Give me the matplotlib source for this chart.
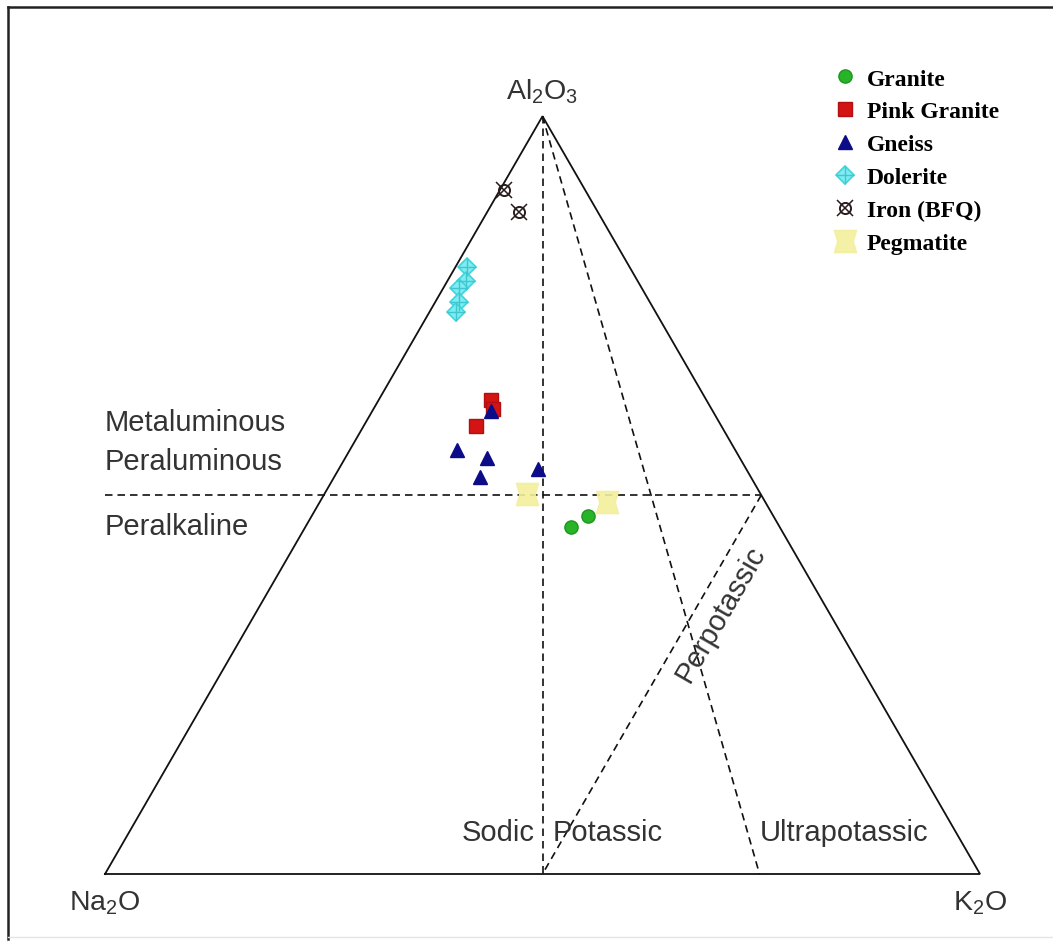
import numpy as np
import matplotlib.pyplot as plt
from matplotlib.path import Path
from matplotlib.lines import Line2D
from matplotlib.font_manager import FontProperties

plt.rcParams['font.family'] = 'Liberation Sans'

# molar fractions: Na2O, Al2O3, K2O
granite_na = [0.212, 0.239]
granite_al = [0.472, 0.458]
granite_k = [0.316, 0.303]

pink_na = [0.246, 0.250, 0.280]
pink_al = [0.626, 0.614, 0.591]
pink_k = [0.128, 0.137, 0.128]

gneiss_na = [0.253, 0.318, 0.289, 0.310, 0.238]
gneiss_al = [0.611, 0.560, 0.549, 0.524, 0.534]
gneiss_k = [0.136, 0.122, 0.162, 0.167, 0.228]

dolerite_na = [0.186, 0.196, 0.209, 0.218, 0.228]
dolerite_al = [0.801, 0.784, 0.773, 0.755, 0.742]
dolerite_k = [0.013, 0.021, 0.018, 0.027, 0.030]

iron_na = [0.093, 0.090]
iron_al = [0.903, 0.874]
iron_k = [0.005, 0.036]

pegmatite_na = [0.267, 0.181]
pegmatite_al = [0.501, 0.491]
pegmatite_k = [0.232, 0.328]

H = np.sqrt(3) / 2


def tern(na, al, k):
    na, al, k = np.asarray(na, float), np.asarray(al, float), np.asarray(k, float)
    s = na + al + k
    a, kk = al / s, k / s
    return kk + a / 2, a * H


fig = plt.figure(figsize=(10.53, 9.45), dpi=100)
ax = fig.add_axes([0, 0, 1, 1])
ax.set_xlim(-0.12, 1.0834)
ax.set_ylim(-0.08, 1.0)
ax.axis('off')

# outer frame
fig.add_artist(Line2D([8 / 1053, 8 / 1053], [1 - 8 / 945, 1 - 940 / 945],
                      transform=fig.transFigure, color='#222222', lw=1.8))
fig.add_artist(Line2D([8 / 1053, 1], [1 - 8 / 945, 1 - 8 / 945],
                      transform=fig.transFigure, color='#222222', lw=1.8))
fig.add_artist(Line2D([8 / 1053, 1], [1 - 938 / 945, 1 - 938 / 945],
                      transform=fig.transFigure, color='#e4e4e4', lw=1.0))

# triangle
tx, ty = tern([1, 0, 0, 1], [0, 1, 0, 0], [0, 0, 1, 0])
ax.plot(tx, ty, color='#111111', lw=1.3, solid_joinstyle='miter')

dash = dict(color='#111111', lw=1.2, dashes=(4.5, 3))
# sodic / potassic : K = Na
x, y = tern([0, 0.5], [1, 0], [0, 0.5])
ax.plot(x, y, **dash)
# ultrapotassic : K = 3 Na
x, y = tern([0, 0.252], [1, 0], [0, 0.748])
ax.plot(x, y, **dash)
# perpotassic : K = 0.5
x, y = tern([0, 0.5], [0.5, 0], [0.5, 0.5])
ax.plot(x, y, **dash)
# peraluminous / peralkaline : Al = 0.5
x, y = tern([0], [0.5], [0.5])
ax.plot([0, x[0]], [y[0], y[0]], **dash)

# samples
pegmatite_marker = Path([(-1, -1), (1, -1), (0.7, 0), (1, 1), (-1, 1), (-0.7, 0), (-1, -1)],
                        [1, 2, 2, 2, 2, 2, 79])

st = dict(granite=dict(marker='o', ms=9.5, color='#28b428', mec='#1d961d'),
          pink=dict(marker='s', ms=10.5, color='#d41414', mec='#b01010'),
          gneiss=dict(marker='^', ms=10.5, color='#0c0c88', mec='#0c0c88'),
          dol1=dict(marker='D', ms=9.5, mfc='#7eecf2', mec='#3fd4dc', mew=1.2),
          dol2=dict(marker='+', ms=13, color='#3fc6ce', mew=1.0),
          iron1=dict(marker='o', ms=8, mfc='none', mec='#2a1c1c', mew=1.4),
          iron2=dict(marker='x', ms=12, color='#2a1c1c', mew=1.1),
          peg=dict(marker=pegmatite_marker, ms=16, color='#f3ef9c', mec='#f3ef9c', alpha=0.9))

x, y = tern(pegmatite_na, pegmatite_al, pegmatite_k)
ax.plot(x, y, ls='none', **st['peg'], zorder=3)
x, y = tern(granite_na, granite_al, granite_k)
ax.plot(x, y, ls='none', **st['granite'], zorder=4)
x, y = tern(pink_na, pink_al, pink_k)
ax.plot(x, y, ls='none', **st['pink'], zorder=4)
x, y = tern(gneiss_na, gneiss_al, gneiss_k)
ax.plot(x, y, ls='none', **st['gneiss'], zorder=5)
x, y = tern(dolerite_na, dolerite_al, dolerite_k)
ax.plot(x, y, ls='none', **st['dol1'], zorder=4)
ax.plot(x, y, ls='none', **st['dol2'], zorder=4)
x, y = tern(iron_na, iron_al, iron_k)
ax.plot(x, y, ls='none', **st['iron1'], zorder=4)
ax.plot(x, y, ls='none', **st['iron2'], zorder=4)

# labels
vtx = dict(color='#333333', fontsize=20.5)
ax.text(0.5, 0.895, r'$\mathregular{Al_2O_3}$', ha='center', va='center', **vtx)
ax.text(0.0, -0.032, r'$\mathregular{Na_2O}$', ha='center', va='center', **vtx)
ax.text(1.0, -0.032, r'$\mathregular{K_2O}$', ha='center', va='center', **vtx)

txt = dict(color='#333333', fontsize=21)
ax.text(0.0, 0.517, 'Metaluminous', ha='left', va='center', **txt)
ax.text(0.0, 0.472, 'Peraluminous', ha='left', va='center', **txt)
ax.text(0.0, 0.398, 'Peralkaline', ha='left', va='center', **txt)
ax.text(0.491, 0.048, 'Sodic', ha='right', va='center', **txt)
ax.text(0.512, 0.048, 'Potassic', ha='left', va='center', **txt)
ax.text(0.748, 0.048, 'Ultrapotassic', ha='left', va='center', **txt)
ax.text(0.703, 0.298, 'Perpotassic', ha='center', va='center', rotation=60,
        rotation_mode='anchor', **txt)

def handle(*keys):
    hs = tuple(Line2D([], [], ls='none', **st[k]) for k in keys)
    return hs if len(hs) > 1 else hs[0]

handles = [handle('granite'), handle('pink'), handle('gneiss'),
           handle('dol1', 'dol2'), handle('iron1', 'iron2'), handle('peg')]
labels = ['Granite', 'Pink Granite', 'Gneiss', 'Dolerite', 'Iron (BFQ)', 'Pegmatite']
ax.legend(handles, labels, loc='upper left', bbox_to_anchor=(836 / 1053, 1 - 69 / 945),
          bbox_transform=fig.transFigure, frameon=False, borderpad=0, borderaxespad=0,
          handlelength=0.8, handletextpad=0.5, labelspacing=0.48,
          prop=FontProperties(family='Liberation Serif', weight='bold', size=17))

fig.savefig('out.png', dpi=100)
